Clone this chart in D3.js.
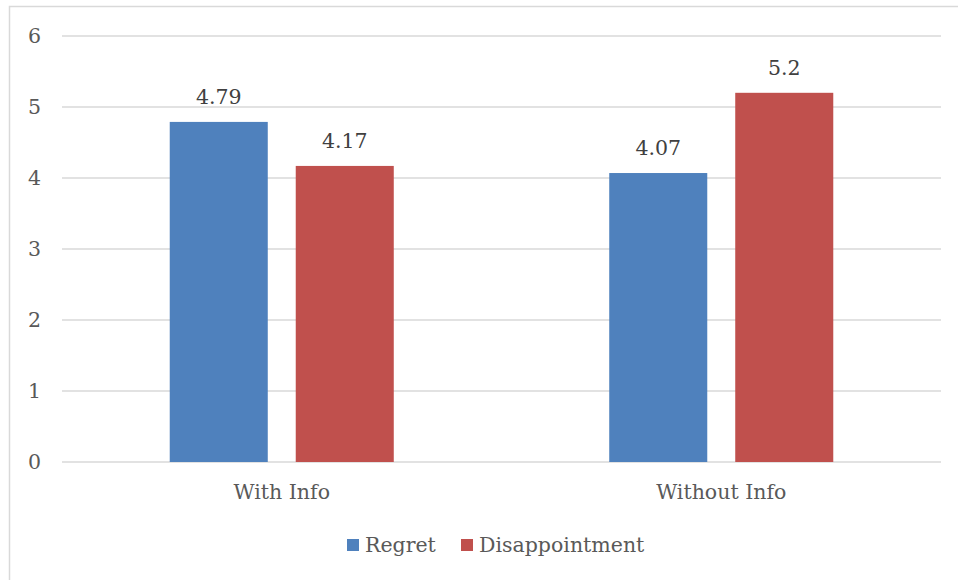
<!DOCTYPE html>
<html>
<head>
<meta charset="utf-8">
<script src="https://cdn.jsdelivr.net/npm/d3@7/dist/d3.min.js"></script>
<style>
  html, body { margin: 0; padding: 0; background: #fff; }
  svg { display: block; }
</style>
</head>
<body>
<svg id="chart" width="958" height="580"></svg>
<script>
// Mean ratings by condition
const categories = ["With Info", "Without Info"];
const seriesNames = ["Regret", "Disappointment"];
const regret = [4.79, 4.07];
const disappointment = [4.17, 5.2];
const yTicks = [0, 1, 2, 3, 4, 5, 6];
const colors = ["#4F81BD", "#C0504D"];

const series = [regret, disappointment];
const rows = categories.map((c, i) => ({
  category: c,
  values: seriesNames.map((s, j) => ({ key: s, value: series[j][i] }))
}));

const svg = d3.select("#chart");
const serif = "'DejaVu Serif', 'Liberation Serif', serif";
const fontSize = "20.5px";

// Chart frame
svg.append("path")
  .attr("d", "M9.5,580 L9.5,6.5 L958,6.5")
  .attr("fill", "none")
  .attr("stroke", "#d9d9d9")
  .attr("stroke-width", 1.5);

const plot = { left: 62, right: 941, top: 36, bottom: 462 };

const x0 = d3.scaleBand()
  .domain(categories)
  .range([plot.left, plot.right]);

const x1 = d3.scaleBand()
  .domain(seriesNames)
  .range([0, x0.bandwidth()])
  .paddingInner(0.222)
  .paddingOuter(0.855);

const y = d3.scaleLinear()
  .domain([0, 6])
  .range([plot.bottom, plot.top]);

// Gridlines
svg.append("g")
  .selectAll("line")
  .data(yTicks)
  .join("line")
  .attr("x1", plot.left)
  .attr("x2", plot.right)
  .attr("y1", d => y(d))
  .attr("y2", d => y(d))
  .attr("stroke", "#d9d9d9")
  .attr("stroke-width", 1.5);

// Y axis labels
const yAxis = svg.append("g")
  .attr("transform", `translate(${plot.left},0)`)
  .call(d3.axisLeft(y).tickValues(yTicks).tickSize(0).tickPadding(21).tickFormat(d3.format("d")));
yAxis.select(".domain").remove();
yAxis.selectAll("text")
  .attr("fill", "#595959")
  .style("font-family", serif)
  .style("font-size", fontSize);

// Bars
const groups = svg.append("g")
  .selectAll("g")
  .data(rows)
  .join("g")
  .attr("transform", d => `translate(${x0(d.category)},0)`);

groups.selectAll("rect")
  .data(d => d.values)
  .join("rect")
  .attr("x", d => x1(d.key))
  .attr("width", x1.bandwidth())
  .attr("y", d => y(d.value))
  .attr("height", d => y(0) - y(d.value))
  .attr("fill", (d, i) => colors[i]);

// Value labels
groups.selectAll("text")
  .data(d => d.values)
  .join("text")
  .attr("x", d => x1(d.key) + x1.bandwidth() / 2)
  .attr("y", d => y(d.value) - 18)
  .attr("text-anchor", "middle")
  .attr("fill", "#404040")
  .style("font-family", serif)
  .style("font-size", fontSize)
  .text(d => d.value);

// Category axis
const xAxis = svg.append("g")
  .attr("transform", `translate(0,${plot.bottom})`)
  .call(d3.axisBottom(x0).tickSize(0).tickPadding(22));
xAxis.select(".domain").remove();
xAxis.selectAll("text")
  .attr("fill", "#595959")
  .style("font-family", serif)
  .style("font-size", fontSize);

// Legend
const legendItems = [
  { name: seriesNames[0], color: colors[0], x: 347 },
  { name: seriesNames[1], color: colors[1], x: 461 }
];
const legend = svg.append("g").attr("transform", "translate(0,545)");
const li = legend.selectAll("g")
  .data(legendItems)
  .join("g")
  .attr("transform", d => `translate(${d.x},0)`);
li.append("rect")
  .attr("x", 0).attr("y", -6)
  .attr("width", 12).attr("height", 12)
  .attr("fill", d => d.color);
li.append("text")
  .attr("x", 18)
  .attr("y", 0)
  .attr("dy", "0.35em")
  .attr("fill", "#595959")
  .style("font-family", serif)
  .style("font-size", fontSize)
  .text(d => d.name);
</script>
</body>
</html>
